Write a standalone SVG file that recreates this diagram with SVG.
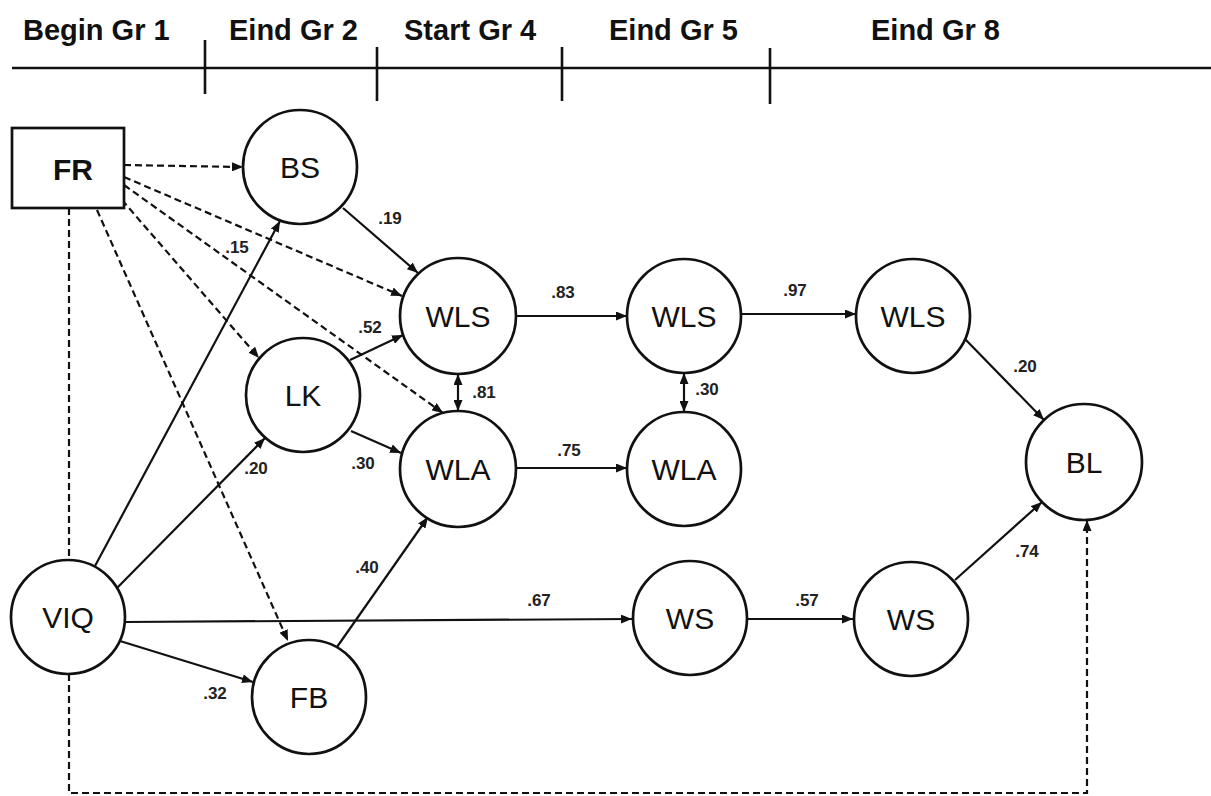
<svg xmlns="http://www.w3.org/2000/svg" width="1211" height="796" viewBox="0 0 1211 796">
<style>
  .hdr{font-family:"Liberation Sans",Arial,sans-serif;font-weight:bold;font-size:29px;fill:#111}
  .tl{stroke:#111;stroke-width:2.6;fill:none}
  .node{fill:#fff;stroke:#111;stroke-width:2.7}
  .nl{font-family:"Liberation Sans",Arial,sans-serif;font-size:30px;fill:#111;text-anchor:middle}
  .nlb{font-family:"Liberation Sans",Arial,sans-serif;font-size:30px;font-weight:bold;fill:#111;text-anchor:middle}
  .e{stroke:#111;stroke-width:2.2;fill:none}
  .d{stroke:#111;stroke-width:2.2;fill:none;stroke-dasharray:7 4}
  .a{marker-end:url(#ah)}
  .b{marker-end:url(#ah);marker-start:url(#ahs)}
  .el{font-family:"Liberation Sans",Arial,sans-serif;font-size:17px;font-weight:bold;fill:#222;text-anchor:middle}
</style>
<defs>
  <marker id="ah" markerUnits="userSpaceOnUse" markerWidth="11" markerHeight="9" refX="11" refY="4.5" orient="auto">
    <path d="M0,0 L11,4.5 L0,9 z" fill="#111"/>
  </marker>
  <marker id="ahs" markerUnits="userSpaceOnUse" markerWidth="11" markerHeight="9" refX="11" refY="4.5" orient="auto-start-reverse">
    <path d="M0,0 L11,4.5 L0,9 z" fill="#111"/>
  </marker>
</defs>
<rect width="1211" height="796" fill="#fff"/>

<g id="timeline">
  <line class="tl" x1="12" y1="68" x2="1211" y2="68"/>
  <line class="tl" x1="205" y1="40" x2="205" y2="94"/>
  <line class="tl" x1="377" y1="47" x2="377" y2="101"/>
  <line class="tl" x1="562" y1="47" x2="562" y2="101"/>
  <line class="tl" x1="770" y1="48" x2="770" y2="104"/>
  <text class="hdr" x="23" y="40">Begin Gr 1</text>
  <text class="hdr" x="229" y="40">Eind Gr 2</text>
  <text class="hdr" x="404" y="40">Start Gr 4</text>
  <text class="hdr" x="609" y="40">Eind Gr 5</text>
  <text class="hdr" x="871" y="40">Eind Gr 8</text>
</g>

<g id="connectors">
  <!-- dashed from FR -->
  <line class="d a" x1="124" y1="165" x2="243" y2="167"/>
  <line class="d a" x1="124" y1="177" x2="402" y2="296"/>
  <line class="d a" x1="124" y1="185" x2="443" y2="413"/>
  <line class="d a" x1="122" y1="200" x2="259" y2="358"/>
  <line class="d a" x1="97" y1="210" x2="288" y2="641"/>
  <line class="d" x1="69" y1="208" x2="69" y2="560"/>
  <polyline class="d a" points="69,674 69,793 1087,793 1087,520"/>
  <!-- solid -->
  <line class="e a" x1="343" y1="208" x2="418" y2="273"/>
  <line class="e a" x1="350" y1="360" x2="403" y2="335"/>
  <line class="e a" x1="351" y1="431" x2="401" y2="453"/>
  <line class="e b" x1="458" y1="374" x2="458" y2="411"/>
  <line class="e a" x1="517" y1="316" x2="627" y2="316"/>
  <line class="e a" x1="516" y1="468" x2="627" y2="468"/>
  <line class="e b" x1="684" y1="373" x2="684" y2="412"/>
  <line class="e a" x1="742" y1="314" x2="856" y2="314"/>
  <line class="e a" x1="965" y1="339" x2="1044" y2="420"/>
  <line class="e a" x1="955" y1="580" x2="1042" y2="502"/>
  <line class="e a" x1="95" y1="566" x2="280" y2="221"/>
  <line class="e a" x1="117" y1="588" x2="265" y2="438"/>
  <line class="e a" x1="125" y1="622" x2="632" y2="619"/>
  <line class="e a" x1="120" y1="641" x2="253" y2="682"/>
  <line class="e a" x1="337" y1="647" x2="428" y2="517"/>
  <line class="e a" x1="748" y1="619" x2="853" y2="619"/>
</g>

<g id="edge-labels">
  <text class="el" x="390" y="224">.19</text>
  <text class="el" x="237" y="253">.15</text>
  <text class="el" x="563" y="298">.83</text>
  <text class="el" x="370" y="333">.52</text>
  <text class="el" x="484" y="398">.81</text>
  <text class="el" x="795" y="296">.97</text>
  <text class="el" x="707" y="395">.30</text>
  <text class="el" x="1025" y="372">.20</text>
  <text class="el" x="363" y="469">.30</text>
  <text class="el" x="569" y="456">.75</text>
  <text class="el" x="256" y="474">.20</text>
  <text class="el" x="367" y="573">.40</text>
  <text class="el" x="539" y="606">.67</text>
  <text class="el" x="807" y="606">.57</text>
  <text class="el" x="1027" y="557">.74</text>
  <text class="el" x="215" y="699">.32</text>
</g>

<g id="node-FR"><rect class="node" x="12" y="128" width="112" height="80"/><text class="nlb" x="73" y="180">FR</text></g>
<g id="node-BS"><circle class="node" cx="300" cy="167" r="57"/><text class="nl" x="300" y="178">BS</text></g>
<g id="node-LK"><circle class="node" cx="303" cy="395" r="57"/><text class="nl" x="303" y="406">LK</text></g>
<g id="node-FB"><circle class="node" cx="309" cy="697" r="57"/><text class="nl" x="309" y="708">FB</text></g>
<g id="node-VIQ"><circle class="node" cx="68" cy="617" r="57"/><text class="nl" x="68" y="628">VIQ</text></g>
<g id="node-WLS1"><circle class="node" cx="458" cy="316" r="58"/><text class="nl" x="458" y="327">WLS</text></g>
<g id="node-WLA1"><circle class="node" cx="458" cy="469" r="58"/><text class="nl" x="458" y="480">WLA</text></g>
<g id="node-WLS2"><circle class="node" cx="684" cy="316" r="57"/><text class="nl" x="684" y="327">WLS</text></g>
<g id="node-WLA2"><circle class="node" cx="684" cy="469" r="57"/><text class="nl" x="684" y="480">WLA</text></g>
<g id="node-WS1"><circle class="node" cx="690" cy="618" r="57"/><text class="nl" x="690" y="629">WS</text></g>
<g id="node-WLS3"><circle class="node" cx="913" cy="316" r="57"/><text class="nl" x="913" y="327">WLS</text></g>
<g id="node-WS2"><circle class="node" cx="911" cy="619" r="57"/><text class="nl" x="911" y="630">WS</text></g>
<g id="node-BL"><circle class="node" cx="1084" cy="462" r="58"/><text class="nl" x="1084" y="473">BL</text></g>
</svg>
